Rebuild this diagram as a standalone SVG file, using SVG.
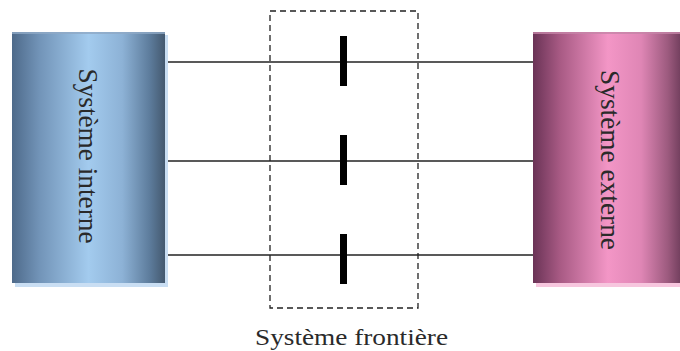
<svg xmlns="http://www.w3.org/2000/svg" width="680" height="351" viewBox="0 0 680 351">
<style>
.lbl{font-family:"Liberation Serif","Times New Roman",serif;fill:#2a2a2a;}
.conn{stroke:#222;stroke-width:1.5;fill:none;}
.tick{fill:#000;}
</style>
<defs>
<linearGradient id="gBlue" x1="0" y1="0" x2="1" y2="0">
<stop offset="0" stop-color="#4e6a8a"/>
<stop offset="0.18" stop-color="#7294b8"/>
<stop offset="0.5" stop-color="#a3cbee"/>
<stop offset="0.72" stop-color="#8db2d6"/>
<stop offset="0.9" stop-color="#5d7c9c"/>
<stop offset="1" stop-color="#44596f"/>
</linearGradient>
<linearGradient id="gPink" x1="0" y1="0" x2="1" y2="0">
<stop offset="0" stop-color="#6a3356"/>
<stop offset="0.18" stop-color="#a85a84"/>
<stop offset="0.5" stop-color="#f396c6"/>
<stop offset="0.72" stop-color="#df86b5"/>
<stop offset="0.9" stop-color="#9c5a7e"/>
<stop offset="1" stop-color="#6b3a58"/>
</linearGradient>
</defs>
<g id="connectors">
<line class="conn" x1="165" y1="62" x2="535" y2="62"/>
<line class="conn" x1="165" y1="161" x2="535" y2="161"/>
<line class="conn" x1="165" y1="255" x2="535" y2="255"/>
</g>
<g id="systeme-interne">
<rect x="15" y="35" width="153" height="252" fill="#c9def3"/>
<rect x="12" y="32" width="153" height="251" fill="url(#gBlue)"/>
<rect x="12" y="32" width="153" height="2" fill="#8fa9c6" opacity="0.8"/>
<text class="lbl" font-size="27" text-anchor="middle" transform="translate(79,156) rotate(90)" textLength="175" lengthAdjust="spacingAndGlyphs">Système interne</text>
</g>
<g id="systeme-externe">
<rect x="536" y="35" width="150" height="252" fill="#f7c6de"/>
<rect x="533" y="32" width="150" height="251" fill="url(#gPink)"/>
<rect x="533" y="32" width="150" height="2" fill="#c584a8" opacity="0.8"/>
<text class="lbl" font-size="27" text-anchor="middle" transform="translate(601,160) rotate(90)" textLength="180" lengthAdjust="spacingAndGlyphs">Système externe</text>
</g>
<g id="systeme-frontiere">
<rect x="270" y="11" width="148" height="297" fill="none" stroke="#222" stroke-width="1.3" stroke-dasharray="6,4"/>
<rect class="tick" x="340" y="36" width="7" height="50"/>
<rect class="tick" x="340" y="135" width="7" height="50"/>
<rect class="tick" x="340" y="234" width="7" height="50"/>
<text class="lbl" font-size="24" x="255" y="345" textLength="193" lengthAdjust="spacingAndGlyphs">Système frontière</text>
</g>
</svg>
